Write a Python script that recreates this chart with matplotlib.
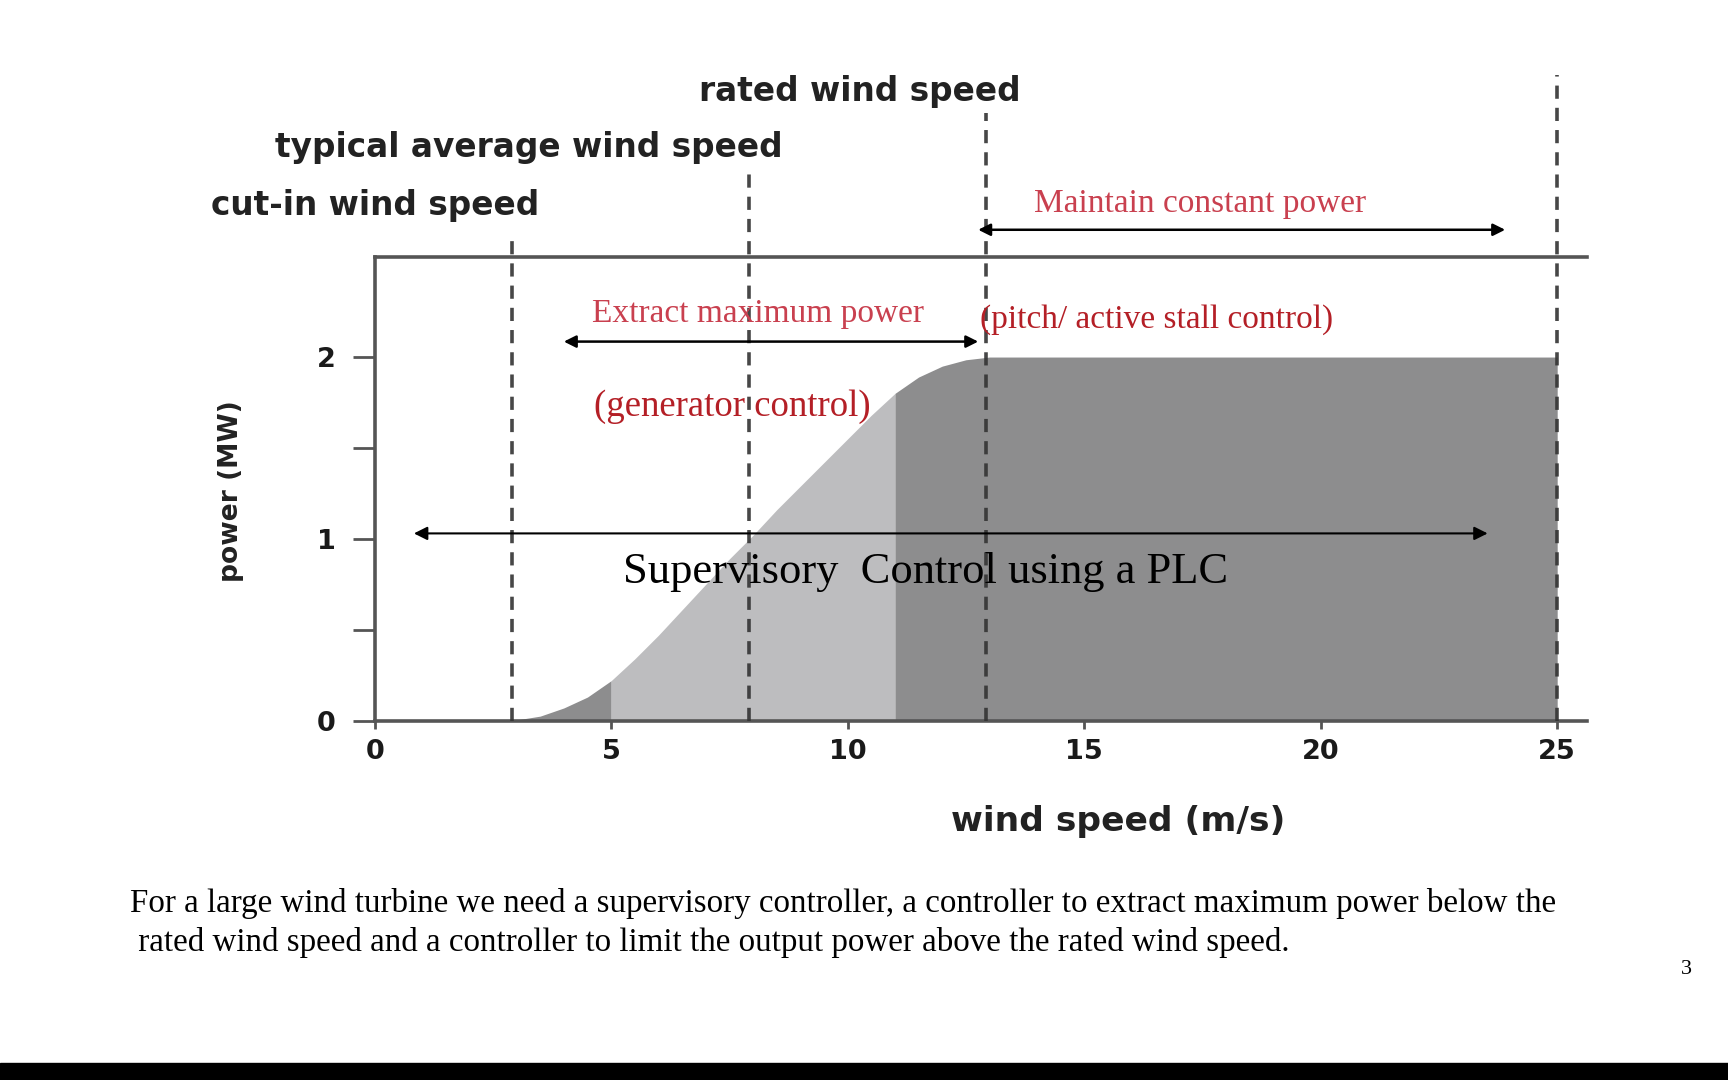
import numpy as np
import matplotlib
matplotlib.use("Agg")
import matplotlib.pyplot as plt
from matplotlib.patches import Rectangle

# power curve (m/s -> MW)
wind = np.array([2.9, 3.5, 4, 4.5, 5, 5.5, 6, 6.5, 7, 7.5, 8, 8.5, 9, 9.5,
                 10, 10.5, 11, 11.5, 12, 12.5, 13, 25])
power = np.array([0, 0.025, 0.07, 0.13, 0.22, 0.34, 0.47, 0.61, 0.75, 0.89, 1.02, 1.16,
                  1.29, 1.42, 1.55, 1.68, 1.80, 1.89, 1.95, 1.985, 2.0, 2.0])

# marked wind speeds (as drawn) and their labels
marker_speeds = [2.9, 7.92, 12.93, 25]
marker_tops = [2.67, 3.02, 3.34, 3.55]
marker_names = ["cut-in wind speed", "typical average wind speed", "rated wind speed"]

x_ticks = [0, 5, 10, 15, 20, 25]
y_ticks = [0, 1, 2]
y_minor = [0.5, 1.5]

caption = ("For a large wind turbine we need a supervisory controller, a controller to extract maximum power below the\n"
           " rated wind speed and a controller to limit the output power above the rated wind speed.")

DARK = "#8d8d8e"
LIGHT = "#bdbdbf"
SPINE = "#555555"
RED_LIGHT = "#c9404f"
RED_DARK = "#b41f26"
SERIF = "Liberation Serif"

plt.rcParams["lines.scale_dashes"] = False

fig = plt.figure(figsize=(17.28, 10.8), dpi=100)
ax = fig.add_axes([0.2168, 0.3327, 0.7016, 0.4293])
ax.set_xlim(0, 25.63)
ax.set_ylim(0, 2.55)

# shaded regions under the curve
ax.fill_between(wind, power, where=(wind <= 5), color=DARK, lw=0)
ax.fill_between(wind, power, where=(wind >= 5) & (wind <= 11), color=LIGHT, lw=0)
ax.fill_between(wind, power, where=(wind >= 11), color=DARK, lw=0)

# dashed marker lines, reaching up past the frame
for xs, top in zip(marker_speeds, marker_tops):
    ax.plot([xs, xs], [0, top], color="#333333", lw=2.6, dashes=(9.5, 6.5),
            clip_on=False, alpha=0.9, zorder=3)

for spine in ["left", "bottom", "top"]:
    ax.spines[spine].set_color(SPINE)
    ax.spines[spine].set_linewidth(2.6)
ax.spines["right"].set_visible(False)

ax.set_xticks(x_ticks)
ax.set_xticklabels([str(t) for t in x_ticks])
ax.set_yticks(y_ticks)
ax.set_yticklabels([str(t) for t in y_ticks])
ax.set_yticks(y_minor, minor=True)
ax.tick_params(axis="x", length=6, width=2, color=SPINE, pad=7,
               labelsize=19.5, labelcolor="#1a1a1a")
ax.tick_params(axis="y", which="both", length=16, width=2, color=SPINE, pad=12,
               labelsize=19.5, labelcolor="#1a1a1a")
for lab in ax.get_xticklabels() + ax.get_yticklabels():
    lab.set_fontweight("bold")

# labels above the marker lines
label_style = dict(ha="center", va="center", fontsize=23.6, fontweight="bold",
                   color="#222222", clip_on=False)
ax.text(0.02, 2.835, marker_names[0], **label_style)
ax.text(3.26, 3.15, marker_names[1], **label_style)
ax.text(10.25, 3.46, marker_names[2], **label_style)

fig.text(1118 / 1728, 1 - 821 / 1080, "wind speed (m/s)", ha="center", va="center",
         fontsize=24.8, fontweight="bold", color="#222222")
fig.text(231 / 1728, 1 - 491 / 1080, "power (MW)", ha="center", va="center",
         rotation=90, fontsize=19.1, fontweight="bold", color="#222222")

# control regions
arrow_top = dict(arrowstyle="<|-|>", color="black", lw=1.8, mutation_scale=18,
                 shrinkA=0, shrinkB=0)
ax.annotate("", xy=(12.76, 2.70), xytext=(23.9, 2.70), arrowprops=arrow_top,
            annotation_clip=False)
ax.annotate("", xy=(4.0, 2.085), xytext=(12.76, 2.085), arrowprops=arrow_top,
            annotation_clip=False)
ax.annotate("", xy=(0.83, 1.03), xytext=(23.53, 1.03),
            arrowprops=dict(arrowstyle="<|-|>", color="black", lw=1.5,
                            mutation_scale=20, shrinkA=0, shrinkB=0),
            annotation_clip=False)

ax.text(17.46, 2.845, "Maintain constant power", ha="center", va="center",
        fontsize=24, family=SERIF, color=RED_LIGHT, clip_on=False)
ax.text(8.10, 2.24, "Extract maximum power", ha="center", va="center",
        fontsize=24, family=SERIF, color=RED_LIGHT)
ax.text(16.54, 2.205, "(pitch/ active stall control)", ha="center", va="center",
        fontsize=24, family=SERIF, color=RED_DARK)
ax.text(7.57, 1.725, "(generator control)", ha="center", va="center",
        fontsize=26.5, family=SERIF, color=RED_DARK)
ax.text(11.65, 0.815, "Supervisory  Control using a PLC", ha="center", va="center",
        fontsize=32, family=SERIF, color="black")

fig.text(130 / 1728, 1 - 923 / 1080, caption, ha="left", va="center",
         fontsize=23.8, family=SERIF, color="black", linespacing=1.37)
fig.text(1686 / 1728, 1 - 969 / 1080, "3", ha="center", va="center",
         fontsize=16, family=SERIF, color="black")

fig.patches.append(Rectangle((0, 0), 1, 17 / 1080, transform=fig.transFigure,
                             color="black", zorder=10))

fig.savefig("out.png", dpi=100, facecolor="white")
